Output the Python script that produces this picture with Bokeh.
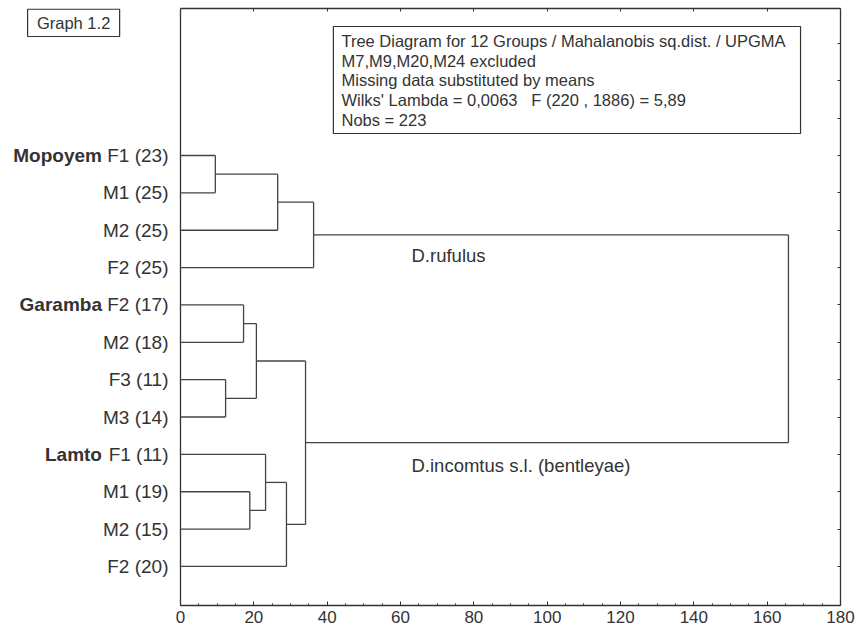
from bokeh.plotting import figure
from bokeh.models import (Range1d, LinearAxis, FixedTicker, LabelSet, ColumnDataSource)
from bokeh.core.properties import value
from bokeh.embed import file_html
from bokeh.resources import INLINE

# ---------------- data ----------------
site_names = ["Mopoyem", "", "", "", "Garamba", "", "", "", "Lamto", "", "", ""]
group_labels = ["F1 (23)", "M1 (25)", "M2 (25)", "F2 (25)",
                "F2 (17)", "M2 (18)", "F3 (11)", "M3 (14)",
                "F1 (11)", "M1 (19)", "M2 (15)", "F2 (20)"]
# UPGMA joins (leaf ids 0-11 in display order, new clusters 12, 13, ...)
merge_left = [0, 12, 13, 4, 6, 15, 9, 8, 19, 17, 14]
merge_right = [1, 2, 3, 5, 7, 16, 10, 18, 11, 20, 21]
merge_dist = [9.5, 26.5, 36.3, 17.2, 12.3, 20.7, 18.9, 23.2, 28.9, 34.1, 165.8]
x_ticks = [0, 20, 40, 60, 80, 100, 120, 140, 160, 180]
clade_names = ["D.rufulus", "D.incomtus s.l. (bentleyae)"]
info_lines = ["Tree Diagram for 12 Groups / Mahalanobis sq.dist. / UPGMA",
              "M7,M9,M20,M24 excluded",
              "Missing data substituted by means",
              "Wilks' Lambda = 0,0063\u00a0\u00a0\u00a0F (220 , 1886) = 5,89",
              "Nobs = 223"]
graph_tag = "Graph 1.2"

# ---------------- build dendrogram segments ----------------
node_x = [0.0] * len(group_labels)
node_y = [float(i) for i in range(len(group_labels))]
x0, y0, x1, y1 = [], [], [], []
for l, r, d in zip(merge_left, merge_right, merge_dist):
    for c in (l, r):
        x0.append(node_x[c]); y0.append(node_y[c]); x1.append(d); y1.append(node_y[c])
    x0.append(d); y0.append(node_y[l]); x1.append(d); y1.append(node_y[r])
    node_x.append(d)
    node_y.append((node_y[l] + node_y[r]) / 2.0)

FONT = "Liberation Sans"
INK = "#333333"
LINE = "#444444"

XMAX = x_ticks[-1]
x_lo = -180.0 * XMAX / 660.0          # frame extends left to hold the row labels
y_top, y_bot = -3.935, 12.045
xr = Range1d(x_lo, XMAX)
yr = Range1d(y_bot, y_top)

p = figure(width=858, height=636, output_backend="svg", toolbar_location=None,
           x_range=xr, y_range=yr,
           min_border_left=0, min_border_right=18, min_border_top=8,
           min_border_bottom=31)
p.background_fill_color = "white"
p.border_fill_color = "white"
p.grid.visible = False
p.outline_line_color = None
p.yaxis.visible = False

# left border of the plot box
p.segment(x0=[0], y0=[y_bot], x1=[0], y1=[y_top], line_color=INK, line_width=1.3)

# dendrogram
p.segment(x0=x0, y0=y0, x1=x1, y1=y1, line_color=LINE, line_width=1.3)

# bottom axis
xa = p.xaxis[0]
xa.bounds = (0, XMAX)
xa.ticker = FixedTicker(ticks=x_ticks, minor_ticks=list(range(0, XMAX + 1, 5)))
xa.axis_line_color = INK
xa.axis_line_width = 1.3
xa.major_tick_in = 4
xa.major_tick_out = 0
xa.minor_tick_in = 2
xa.minor_tick_out = 0
xa.major_tick_line_color = INK
xa.minor_tick_line_color = INK
xa.major_label_text_font = FONT
xa.major_label_text_font_size = "17px"
xa.major_label_text_color = INK
xa.major_label_standoff = 5

# top axis (line + ticks only)
top = LinearAxis(ticker=FixedTicker(ticks=x_ticks), bounds=(0, XMAX),
                 axis_line_color=INK, axis_line_width=1.3,
                 major_tick_in=3, major_tick_out=0, minor_tick_line_color=None,
                 major_tick_line_color=INK, major_label_text_font_size="1px",
                 major_label_text_color=None, major_label_standoff=0)
p.add_layout(top, "above")

# right axis (line + ticks only)
right = LinearAxis(ticker=FixedTicker(ticks=list(range(-3, 12))),
                   axis_line_color=INK, axis_line_width=1.3,
                   major_tick_in=3, major_tick_out=0, minor_tick_line_color=None,
                   major_tick_line_color=INK, major_label_text_font_size="1px",
                   major_label_text_color=None, major_label_standoff=0)
p.add_layout(right, "right")

# ---------------- row labels ----------------
LABEL_SIZE = 19
ARIAL = {' ': 0.278, '(': 0.333, ')': 0.333, 'F': 0.611, 'M': 0.833}
def tw(s, size):
    return sum(ARIAL.get(ch, 0.556) for ch in s) * size

rows = list(range(len(group_labels)))
lab_src = ColumnDataSource(dict(x=[0] * len(rows), y=rows, text=group_labels))
p.add_layout(LabelSet(x="x", y="y", text="text", source=lab_src, x_offset=-12,
                      text_align="right", text_baseline="middle",
                      text_font=value(FONT), text_font_size=f"{LABEL_SIZE}px",
                      text_color=INK))
site_rows = [i for i, s in enumerate(site_names) if s]
site_src = ColumnDataSource(dict(
    x=[0] * len(site_rows), y=site_rows,
    text=[site_names[i] for i in site_rows],
    off=[-12 - tw(" " + group_labels[i], LABEL_SIZE) for i in site_rows]))
p.add_layout(LabelSet(x="x", y="y", text="text", source=site_src, x_offset="off",
                      text_align="right", text_baseline="middle",
                      text_font=value(FONT), text_font_size=f"{LABEL_SIZE}px",
                      text_font_style="bold", text_color=INK))

# ---------------- clade names ----------------
p.text(x=[63.0, 63.0], y=[2.68, 8.30], text=clade_names, text_font=value(FONT),
       text_font_size="18.5px", text_color=INK, text_baseline="middle")

# ---------------- info box ----------------
p.quad(left=[41.7], right=[169.1], top=[-3.453], bottom=[-0.589],
       fill_color="white", line_color=INK, line_width=1.2)
p.text(x=[43.9] * len(info_lines),
       y=[-3.06 + 0.525 * i for i in range(len(info_lines))],
       text=info_lines, text_font=value(FONT), text_font_size="16.5px",
       text_color=INK, text_baseline="middle")

# ---------------- graph tag ----------------
p.quad(left=[-41.7], right=[-16.6], top=[-3.92], bottom=[-3.185],
       fill_color="white", line_color=INK, line_width=1.2)
p.text(x=[-29.15], y=[-3.55], text=[graph_tag], text_font=value(FONT),
       text_font_size="16.5px", text_color=INK, text_align="center",
       text_baseline="middle")

open("out.html", "w").write(file_html(p, INLINE))
